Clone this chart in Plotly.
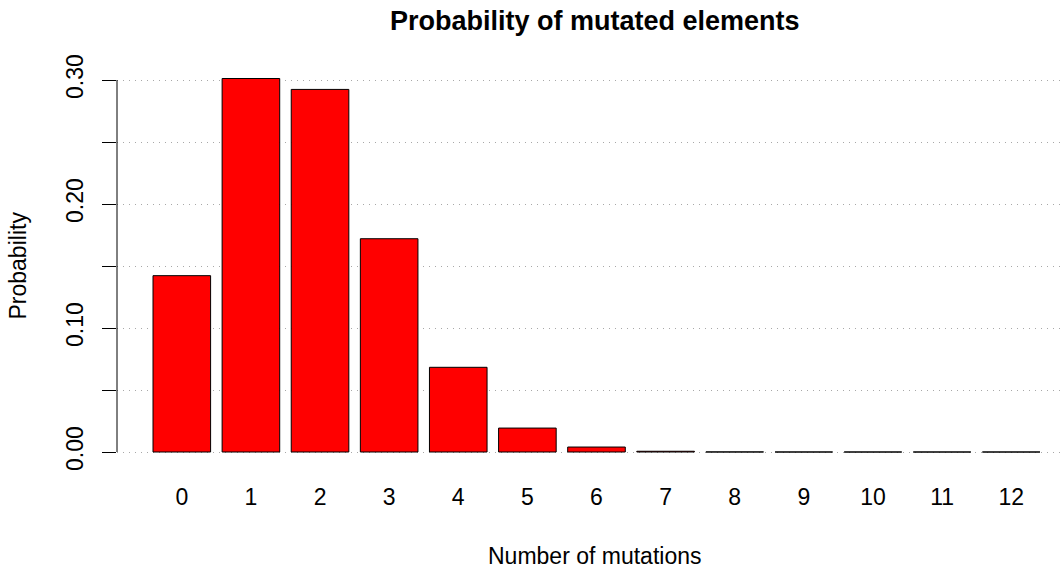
import plotly.graph_objects as go

# number of mutated elements and their probability
mutations = ["0", "1", "2", "3", "4", "5", "6", "7", "8", "9", "10", "11", "12"]
probability = [0.1422, 0.3012, 0.2924, 0.1720, 0.0683, 0.0193, 0.0040,
               0.0006, 0.00007, 0.000005, 0.0000003, 0.00000001, 0.0]

y_ticks = [0.00, 0.05, 0.10, 0.15, 0.20, 0.25, 0.30]
y_tick_labels = ["0.00", "", "0.10", "", "0.20", "", "0.30"]

font = "Liberation Sans, Arial, Helvetica, sans-serif"

fig = go.Figure(go.Bar(
    x=list(range(len(mutations))),
    y=probability,
    width=1 / 1.2,
    marker=dict(color="#ff0000", line=dict(color="black", width=1)),
    hoverinfo="x+y",
))

fig.update_layout(
    width=1064, height=569,
    margin=dict(l=117, r=0, t=60, b=91),
    plot_bgcolor="white", paper_bgcolor="white",
    font=dict(family=font, size=23, color="black"),
    showlegend=False,
    xaxis=dict(
        range=[-0.9375, 12.764],
        tickvals=list(range(len(mutations))),
        ticktext=mutations,
        showline=False, showgrid=False, zeroline=False,
        ticks="", ticklabelstandoff=3,
    ),
    yaxis=dict(
        range=[-0.02097, 0.31613],
        tickvals=y_ticks,
        ticktext=y_tick_labels,
        tickangle=-90,
        ticks="outside", ticklen=14, tickwidth=1, tickcolor="black",
        ticklabelstandoff=10,
        showline=False, zeroline=False,
        showgrid=True, gridcolor="#a8a8a8", gridwidth=1, griddash="1px,5px",
    ),
    shapes=[dict(type="line", xref="paper", yref="y",
                 x0=0, x1=0, y0=y_ticks[0], y1=y_ticks[-1],
                 line=dict(color="black", width=1))],
    annotations=[
        dict(text="<b>Probability of mutated elements</b>", showarrow=False,
             xref="paper", yref="paper", x=(595 - 117) / 947, y=(478 - 21) / 418,
             xanchor="center", yanchor="middle", font=dict(size=27)),
        dict(text="Number of mutations", showarrow=False,
             xref="paper", yref="paper", x=(594 - 117) / 947, y=(478 - 556) / 418,
             xanchor="center", yanchor="middle"),
        dict(text="Probability", showarrow=False, textangle=-90,
             xref="paper", yref="paper", x=(17 - 117) / 947, y=(478 - 265.5) / 418,
             xanchor="center", yanchor="middle"),
    ],
)

fig.write_html("out.html", config={"displayModeBar": False},
               post_script="document.body.style.margin='0';")
